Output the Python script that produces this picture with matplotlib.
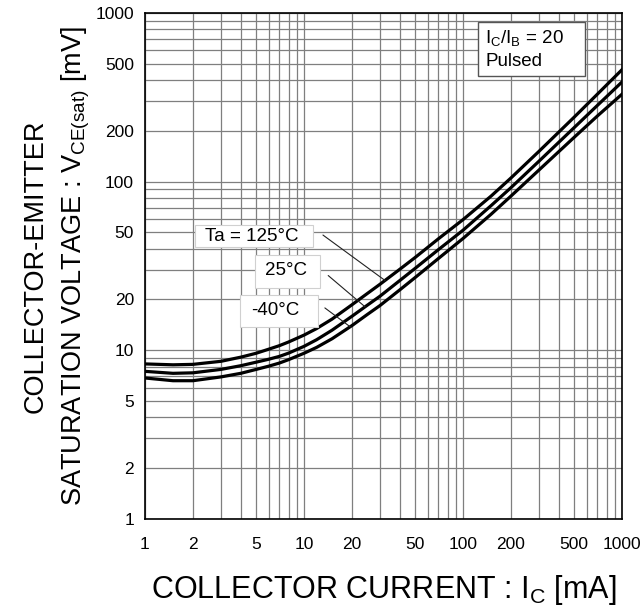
import numpy as np
import matplotlib
matplotlib.use("Agg")
import matplotlib.pyplot as plt
from matplotlib.patches import Rectangle
from matplotlib.ticker import FixedLocator, NullFormatter

plt.rcParams['font.family'] = ['Liberation Sans', 'DejaVu Sans']

# collector current [mA]
ic = [1, 1.5, 2, 3, 4, 5, 6, 7, 8, 10, 12, 15, 20, 25, 30, 40, 50, 70, 100, 150, 200, 300, 500, 700, 1000]
# VCE(sat) [mV] per ambient temperature
v_125 = [8.3, 8.2, 8.25, 8.6, 9.1, 9.6, 10.15, 10.65, 11.2, 12.3, 13.45, 15.3, 18.6, 21.7, 24.6, 30.2, 35.5,
         45.8, 59.5, 82, 105, 151, 241, 330, 461]
v_25 = [7.5, 7.3, 7.35, 7.7, 8.1, 8.5, 8.85, 9.2, 9.62, 10.55, 11.55, 13.15, 15.9, 18.5, 20.9, 25.9, 30.6,
        39.5, 51.5, 72, 92, 132, 209, 283, 390]
v_m40 = [6.85, 6.6, 6.6, 6.95, 7.3, 7.7, 8.05, 8.4, 8.8, 9.6, 10.4, 11.7, 14.0, 16.3, 18.4, 22.8, 27.0,
         35.0, 46.0, 64, 82, 117, 183, 245, 330]

labels = ["Ta = 125°C", "25°C", "-40°C"]
label_pos = [(0.223, 0.559), (0.296, 0.490), (0.273, 0.411)]
label_box = [(0.105, 0.5375, 0.247, 0.0435), (0.2306, 0.4565, 0.1363, 0.0652), (0.1992, 0.3794, 0.1635, 0.0633)]
leader_start = [(0.373, 0.561), (0.384, 0.481), (0.377, 0.417)]
leader_x = [32.3, 24.2, 19.5]

major = [1, 2, 5, 10, 20, 50, 100, 200, 500, 1000]
minor = [m * 10 ** d for d in range(3) for m in range(1, 10)] + [1000]

fig = plt.figure(figsize=(6.43, 6.12), dpi=100)
ax = fig.add_axes([0.2255, 0.152, 0.742, 0.827])
ax.set_xscale('log')
ax.set_yscale('log')
ax.set_xlim(1, 1000)
ax.set_ylim(1, 1000)

curves = [v_125, v_25, v_m40]
for v in curves:
    ax.plot(ic, v, color='black', lw=2.3, zorder=3, solid_joinstyle='round')

for axis in (ax.xaxis, ax.yaxis):
    axis.set_major_locator(FixedLocator(major))
    axis.set_minor_locator(FixedLocator(minor))
    axis.set_minor_formatter(NullFormatter())
ax.set_xticklabels([str(m) for m in major])
ax.set_yticklabels([str(m) for m in major])
ax.tick_params(which='both', length=0, labelsize=12.5)
ax.tick_params(axis='x', pad=13)
ax.tick_params(axis='y', pad=8)
ax.grid(True, which='both', color='#7f7f7f', lw=0.9)
ax.set_axisbelow(True)
for s in ax.spines.values():
    s.set_linewidth(1.2)

for lab, pos, box, start, lx, v in zip(labels, label_pos, label_box, leader_start, leader_x, curves):
    ly = 10 ** np.interp(np.log10(lx), np.log10(ic), np.log10(v))
    ax.annotate('', xy=(lx, ly), xycoords='data', xytext=start, textcoords='axes fraction',
                arrowprops=dict(arrowstyle='-', lw=0.8, color='#222222', shrinkA=0, shrinkB=0), zorder=4)
    ax.add_patch(Rectangle(box[:2], box[2], box[3], transform=ax.transAxes, fc='white',
                           ec='#d0d0d0', lw=0.8, zorder=4.5))
    ax.text(pos[0], pos[1], lab, transform=ax.transAxes, fontsize=13.5, ha='center', va='center',
            zorder=5)

# condition box, top right
ax.add_patch(Rectangle((0.698, 0.8755), 0.224, 0.1067, transform=ax.transAxes, fc='white',
                       ec='#555555', lw=1.0, zorder=4.5))
ax.text(0.713, 0.929, 'I$\\mathregular{_C}$/I$\\mathregular{_B}$ = 20\nPulsed', transform=ax.transAxes,
        fontsize=13.5, ha='left', va='center', linespacing=1.4, zorder=5)

ax.set_xlabel('COLLECTOR CURRENT : I$\\mathregular{_C}$ [mA]', fontsize=22, labelpad=15)
ax.set_ylabel('COLLECTOR-EMITTER\nSATURATION VOLTAGE : V$\\mathregular{_{CE(sat)}}$ [mV]',
              fontsize=19.5, labelpad=2, linespacing=1.55)

fig.savefig('out.png', dpi=100)
